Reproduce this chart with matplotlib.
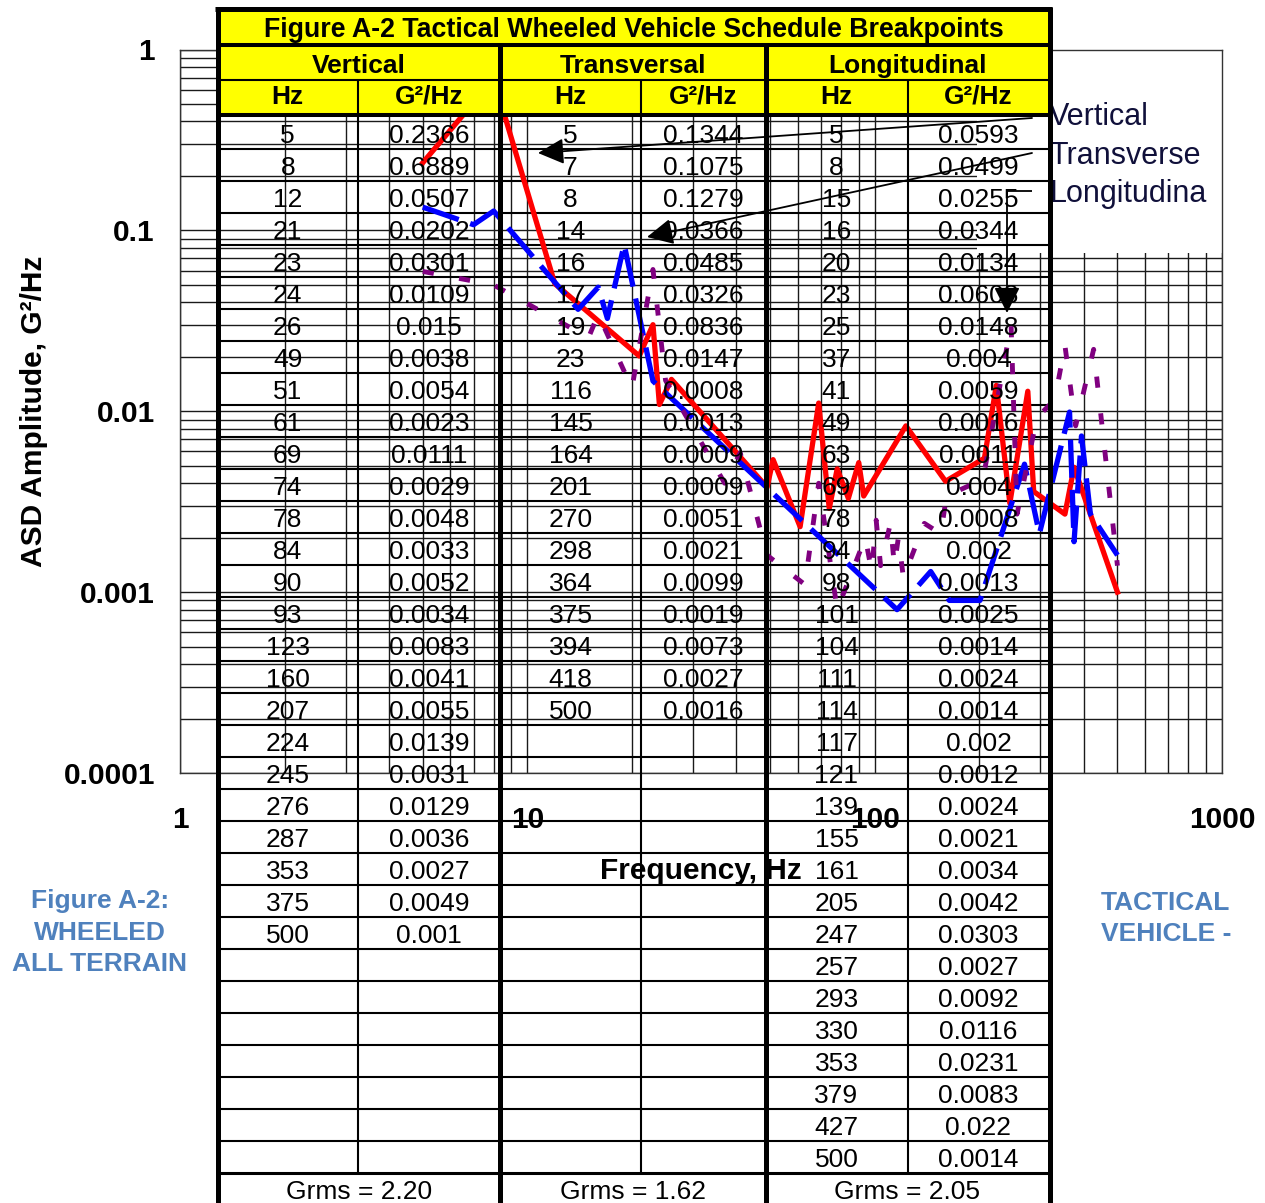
import matplotlib.pyplot as plt
import matplotlib.transforms as mtransforms
from matplotlib.lines import Line2D
from matplotlib.patches import Rectangle
from matplotlib.ticker import NullFormatter

plt.rcParams['font.family'] = 'Liberation Sans'

# Schedule breakpoints (Hz, G^2/Hz) as listed in the table
vert_hz = [5, 8, 12, 21, 23, 24, 26, 49, 51, 61, 69, 74, 78, 84, 90, 93, 123, 160,
           207, 224, 245, 276, 287, 353, 375, 500]
vert_g2 = [0.2366, 0.6889, 0.0507, 0.0202, 0.0301, 0.0109, 0.015, 0.0038, 0.0054,
           0.0023, 0.0111, 0.0029, 0.0048, 0.0033, 0.0052, 0.0034, 0.0083, 0.0041,
           0.0055, 0.0139, 0.0031, 0.0129, 0.0036, 0.0027, 0.0049, 0.001]
trans_hz = [5, 7, 8, 14, 16, 17, 19, 23, 116, 145, 164, 201, 270, 298, 364, 375,
            394, 418, 500]
trans_g2 = [0.1344, 0.1075, 0.1279, 0.0366, 0.0485, 0.0326, 0.0836, 0.0147, 0.0008,
            0.0013, 0.0009, 0.0009, 0.0051, 0.0021, 0.0099, 0.0019, 0.0073, 0.0027,
            0.0016]
long_hz = [5, 8, 15, 16, 20, 23, 25, 37, 41, 49, 63, 69, 78, 94, 98, 101, 104, 111,
           114, 117, 121, 139, 155, 161, 205, 247, 257, 293, 330, 353, 379, 427, 500]
long_g2 = [0.0593, 0.0499, 0.0255, 0.0344, 0.0134, 0.0608, 0.0148, 0.004, 0.0059,
           0.0016, 0.0011, 0.004, 0.0008, 0.002, 0.0013, 0.0025, 0.0014, 0.0024,
           0.0014, 0.002, 0.0012, 0.0024, 0.0021, 0.0034, 0.0042, 0.0303, 0.0027,
           0.0092, 0.0116, 0.0231, 0.0083, 0.022, 0.0014]
grms = ['2.20', '1.62', '2.05']
sections = ['Vertical', 'Transversal', 'Longitudinal']
legend_names = ['Vertical', 'Transverse', 'Longitudina']

x_ticks = [1, 10, 100, 1000]
y_ticks = [0.0001, 0.001, 0.01, 0.1, 1]
y_tick_labels = ['0.0001', '0.001', '0.01', '0.1', '1']

W, H = 1265, 1203
fig = plt.figure(figsize=(W / 100, H / 100), dpi=100)
ax = fig.add_axes([180 / W, 1 - 773 / H, 1042 / W, 723.5 / H])
ax.set_xscale('log')
ax.set_yscale('log')
ax.set_xlim(1, 1000)
ax.set_ylim(1e-4, 1)

ax.set_xticks(x_ticks, [str(t) for t in x_ticks], fontsize=21.5, fontweight='bold')
ax.set_yticks(y_ticks, y_tick_labels, fontsize=21.5, fontweight='bold')
ax.xaxis.set_minor_formatter(NullFormatter())
ax.yaxis.set_minor_formatter(NullFormatter())
ax.tick_params(which='both', length=0)
ax.tick_params(axis='x', pad=24)
ax.tick_params(axis='y', pad=18)
ax.grid(which='both', color='#1a1a1a', lw=1.0)
ax.set_axisbelow(True)
for s in ax.spines.values():
    s.set_color('#333333')
    s.set_linewidth(1.0)

ax.set_xlabel('Frequency, Hz', fontsize=21.5, fontweight='bold')
ax.set_ylabel('ASD Amplitude, G²/Hz', fontsize=21.5, fontweight='bold')
ax.xaxis.set_label_coords(0.5, -0.116)
ax.yaxis.set_label_coords(-0.1267, 0.5)

# legend area hides the grid in the upper right
ax.add_patch(Rectangle((197, 0.075), 1000 - 197, 1 - 0.075, facecolor='white',
                       edgecolor='none', zorder=0.8))

# the three spectra
ax.plot(vert_hz, vert_g2, color='#ff0000', lw=3.8, zorder=3)
ax.plot(trans_hz, trans_g2, color='#0000ff', lw=3.8, zorder=3,
        dashes=(7.2, 2.3))
ax.plot(long_hz, long_g2, color='#800080', lw=3.5, zorder=3,
        dashes=(2.3, 5.3))

# pixel transform (x right, y down from the top left corner)
px = mtransforms.Affine2D().scale(1 / W, -1 / H).translate(0, 1) + fig.transFigure


def seg(x0, y0, x1, y1, lw, z):
    ax.add_line(Line2D([x0, x1], [y0, y1], transform=px, color='black', lw=lw,
                       zorder=z, clip_on=False, solid_capstyle='butt'))


def txt(x, y, s, **kw):
    kw.setdefault('ha', 'center')
    kw.setdefault('va', 'baseline')
    kw.setdefault('fontsize', 19)
    kw.setdefault('zorder', 5)
    ax.text(x, y, s, transform=px, clip_on=False, **kw)


# ---- table ----
left, right = 217.5, 1049.5
sec_edges = [left, 500, 765.5, right]
col_split = [358, 641, 907.5]
body_top, row_h, n_rows = 117, 32, 33
grms_top = body_top + row_h * n_rows

ax.add_patch(Rectangle((left, 9), right - left, 106, transform=px, facecolor='#ffff00',
                       edgecolor='none', zorder=4, clip_on=False))
seg(215, 9, 1052, 9, 3.6, 4.5)
seg(left, 45, right, 45, 2.9, 4.5)
seg(left, 80, right, 80, 1.5, 4.5)
seg(left, 115, right, 115, 2.9, 4.5)
for k in range(1, n_rows + 1):
    seg(left, body_top + row_h * k, right, body_top + row_h * k,
        2.2 if k == n_rows else 1.5, 1)
for x in [left, right]:
    seg(x, 7, x, 1210, 3.6, 4.5)
for x in sec_edges[1:3]:
    seg(x, 45, x, 1210, 3.6, 4.5)
for x in col_split:
    seg(x, 80, x, grms_top, 1.5, 4.5)

txt((left + right) / 2, 37, 'Figure A-2 Tactical Wheeled Vehicle Schedule Breakpoints',
    fontweight='bold', fontsize=19.3)
columns = [(vert_hz, vert_g2), (trans_hz, trans_g2), (long_hz, long_g2)]
for i, (hz, g2) in enumerate(columns):
    x0, x1 = sec_edges[i], sec_edges[i + 1]
    xm = col_split[i]
    txt((x0 + x1) / 2, 72.7, sections[i], fontweight='bold')
    txt((x0 + xm) / 2, 104, 'Hz', fontweight='bold')
    txt((xm + x1) / 2, 104, 'G²/Hz', fontweight='bold')
    for r, (f, v) in enumerate(zip(hz, g2)):
        yb = body_top + 26.3 + row_h * r
        txt((x0 + xm) / 2, yb, str(f))
        txt((xm + x1) / 2, yb, str(v))
    txt((x0 + x1) / 2, grms_top + 26, 'Grms = ' + grms[i])

# legend labels and leader arrows
for name, yb in zip(legend_names, [125, 164, 202]):
    txt(1049, yb, name, ha='left', fontsize=22, color='#10103a', zorder=4.4)

arrow = dict(arrowstyle='-|>', color='black', lw=1.3, mutation_scale=40,
             shrinkA=0, shrinkB=0)
ax.annotate('', xy=(538, 153), xytext=(1032, 118), xycoords=px, textcoords=px,
            arrowprops=arrow, zorder=6)
ax.annotate('', xy=(647, 237), xytext=(1032, 153), xycoords=px, textcoords=px,
            arrowprops=arrow, zorder=6)
seg(1007, 191, 1032, 191, 1.3, 6)
ax.annotate('', xy=(1007, 313), xytext=(1007, 191), xycoords=px, textcoords=px,
            arrowprops=arrow, zorder=6)

# caption fragments
blue = '#4f81bd'
for s, yb in zip(['Figure A-2:', 'WHEELED', 'ALL TERRAIN'], [908, 940, 971]):
    txt(100, yb, s, color=blue, fontweight='bold')
for s, yb in zip(['TACTICAL', 'VEHICLE -'], [910, 941]):
    txt(1101, yb, s, ha='left', color=blue, fontweight='bold')

fig.savefig('out.png', dpi=100)
